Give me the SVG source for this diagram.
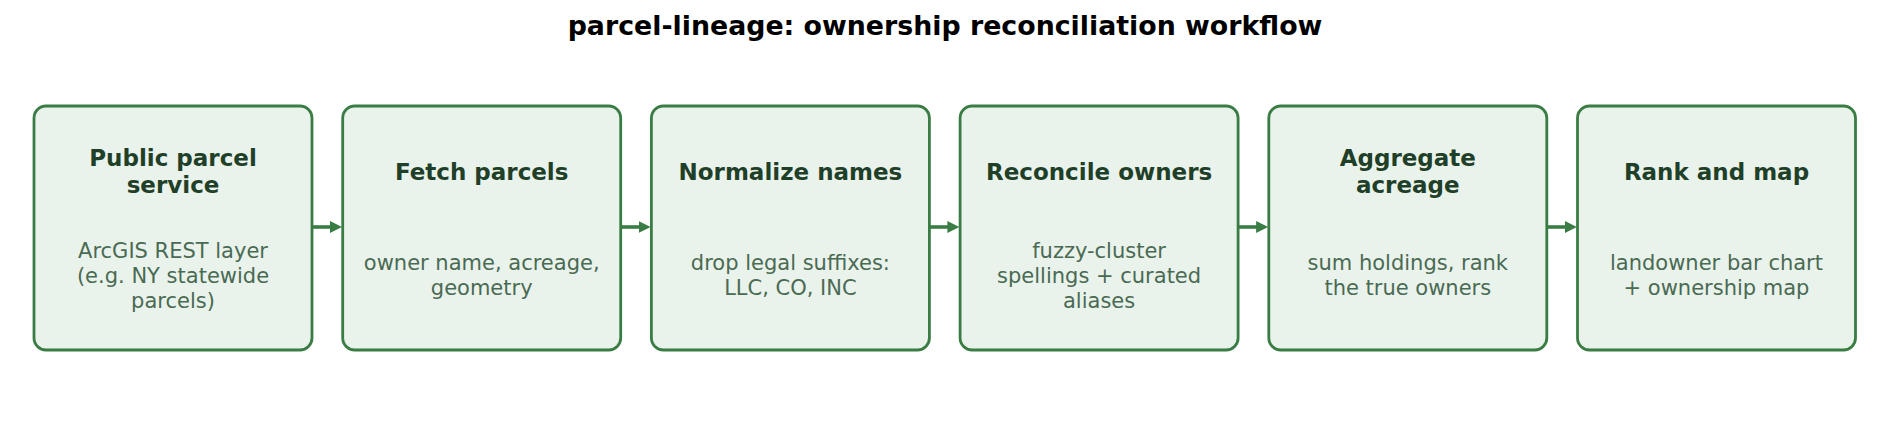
<svg xmlns="http://www.w3.org/2000/svg" width="1890" height="429" viewBox="0 0 1890 429">
<style>
.box{fill:#e9f3eb;stroke:#3a7d44;stroke-width:2.8}
.hd{font-family:"DejaVu Sans",sans-serif;font-weight:bold;font-size:23px;fill:#1f3f28;text-anchor:middle}
.bd{font-family:"DejaVu Sans",sans-serif;font-size:21px;fill:#4a6a53;text-anchor:middle}
.ttl{font-family:"DejaVu Sans",sans-serif;font-weight:bold;font-size:26.8px;fill:#000;text-anchor:middle}
.edge{stroke:#3a7d44;stroke-width:3.6;fill:none}
</style>
<defs>
<marker id="ah" markerUnits="userSpaceOnUse" markerWidth="13" markerHeight="13" refX="2" refY="6" orient="auto">
<path d="M0,0 L12,6 L0,12 z" fill="#3a7d44"/>
</marker>
</defs>
<rect width="1890" height="429" fill="#ffffff"/>
<text class="ttl" x="945" y="35">parcel-lineage: ownership reconciliation workflow</text>
<g id="connectors">
<line class="edge" x1="307" y1="227" x2="332" y2="227" marker-end="url(#ah)"/>
<line class="edge" x1="615.7" y1="227" x2="640.7" y2="227" marker-end="url(#ah)"/>
<line class="edge" x1="924.4" y1="227" x2="949.4" y2="227" marker-end="url(#ah)"/>
<line class="edge" x1="1233.1" y1="227" x2="1258.1" y2="227" marker-end="url(#ah)"/>
<line class="edge" x1="1541.8" y1="227" x2="1566.8" y2="227" marker-end="url(#ah)"/>
</g>
<g id="node1">
<rect class="box" x="34" y="106" width="278" height="244" rx="12"/>
<text class="hd" x="173" y="166">Public parcel</text>
<text class="hd" x="173" y="193">service</text>
<text class="bd" x="173" y="258">ArcGIS REST layer</text>
<text class="bd" x="173" y="283">(e.g. NY statewide</text>
<text class="bd" x="173" y="308">parcels)</text>
</g>
<g id="node2">
<rect class="box" x="342.7" y="106" width="278" height="244" rx="12"/>
<text class="hd" x="481.7" y="180">Fetch parcels</text>
<text class="bd" x="481.7" y="270">owner name, acreage,</text>
<text class="bd" x="481.7" y="295">geometry</text>
</g>
<g id="node3">
<rect class="box" x="651.4" y="106" width="278" height="244" rx="12"/>
<text class="hd" x="790.4" y="180">Normalize names</text>
<text class="bd" x="790.4" y="270">drop legal suffixes:</text>
<text class="bd" x="790.4" y="295">LLC, CO, INC</text>
</g>
<g id="node4">
<rect class="box" x="960.1" y="106" width="278" height="244" rx="12"/>
<text class="hd" x="1099.1" y="180">Reconcile owners</text>
<text class="bd" x="1099.1" y="258">fuzzy-cluster</text>
<text class="bd" x="1099.1" y="283">spellings + curated</text>
<text class="bd" x="1099.1" y="308">aliases</text>
</g>
<g id="node5">
<rect class="box" x="1268.8" y="106" width="278" height="244" rx="12"/>
<text class="hd" x="1407.8" y="166">Aggregate</text>
<text class="hd" x="1407.8" y="193">acreage</text>
<text class="bd" x="1407.8" y="270">sum holdings, rank</text>
<text class="bd" x="1407.8" y="295">the true owners</text>
</g>
<g id="node6">
<rect class="box" x="1577.5" y="106" width="278" height="244" rx="12"/>
<text class="hd" x="1716.5" y="180">Rank and map</text>
<text class="bd" x="1716.5" y="270">landowner bar chart</text>
<text class="bd" x="1716.5" y="295">+ ownership map</text>
</g>
</svg>
